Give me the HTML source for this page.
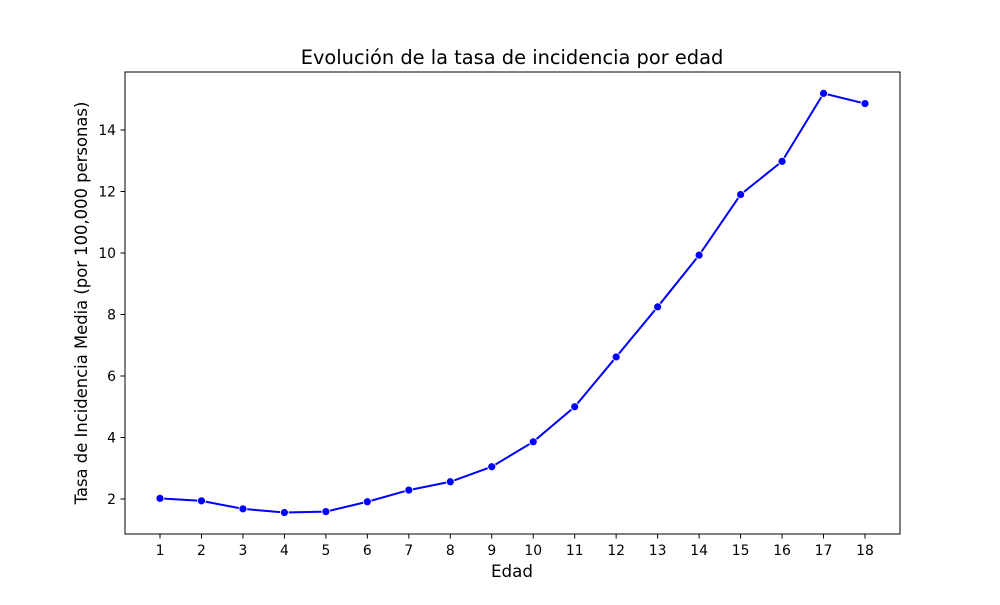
<!DOCTYPE html>
<html><head><meta charset="utf-8"><style>
body{margin:0;background:#fff;}
svg text{font-family:"DejaVu Sans","Liberation Sans",sans-serif;fill:#000;}
</style></head><body>
<svg id="chart" width="1000" height="600" xmlns="http://www.w3.org/2000/svg">
<rect width="1000" height="600" fill="#fff"/>
<text x="512" y="64" font-size="19.4" text-anchor="middle">Evolución de la tasa de incidencia por edad</text>
<text x="512" y="577" font-size="16.7" text-anchor="middle">Edad</text>
<text transform="translate(87,303) rotate(-90)" font-size="16.4" text-anchor="middle">Tasa de Incidencia Media (por 100,000 personas)</text>
<g id="axes"></g>
<rect x="125" y="72" width="775" height="462" fill="none" stroke="#000" stroke-width="1"/>
</svg>
<script>
const ages=[1,2,3,4,5,6,7,8,9,10,11,12,13,14,15,16,17,18];
const rates=[2.02,1.94,1.68,1.56,1.59,1.91,2.29,2.56,3.05,3.86,5.0,6.62,8.25,9.93,11.9,12.98,15.19,14.86];
const yTicks=[2,4,6,8,10,12,14];
const NS="http://www.w3.org/2000/svg";
const g=document.getElementById('axes');
function xs(v){return 160+(v-1)*(705/17);}
function ys(v){return 499-(v-2)*30.75;}
function mk(t,a){const e=document.createElementNS(NS,t);for(const k in a)e.setAttribute(k,a[k]);g.appendChild(e);return e;}
ages.forEach(a=>{
 const l=mk('line',{x1:xs(a),x2:xs(a),y1:534,y2:538.5,stroke:'#000'});
 
 
 const t=mk('text',{x:xs(a),y:555,'font-size':13.9,'text-anchor':'middle'});t.textContent=a;
 
 
});
yTicks.forEach(v=>{
 const l=mk('line',{x1:120.5,x2:125,y1:ys(v),y2:ys(v),stroke:'#000'});
 
 
 const t=mk('text',{x:116,y:ys(v)+5,'font-size':13.9,'text-anchor':'end'});t.textContent=v;
 
 
});
const p=mk('polyline',{points:ages.map((a,i)=>xs(a)+','+ys(rates[i])).join(' '),fill:'none',stroke:'#0000ff','stroke-width':2});


ages.forEach((a,i)=>{
 const c=mk('circle',{cx:xs(a),cy:ys(rates[i]),r:4,fill:'#0000ff',stroke:'#fff','stroke-width':0.8});
 
 
});
</script>
</body></html>
